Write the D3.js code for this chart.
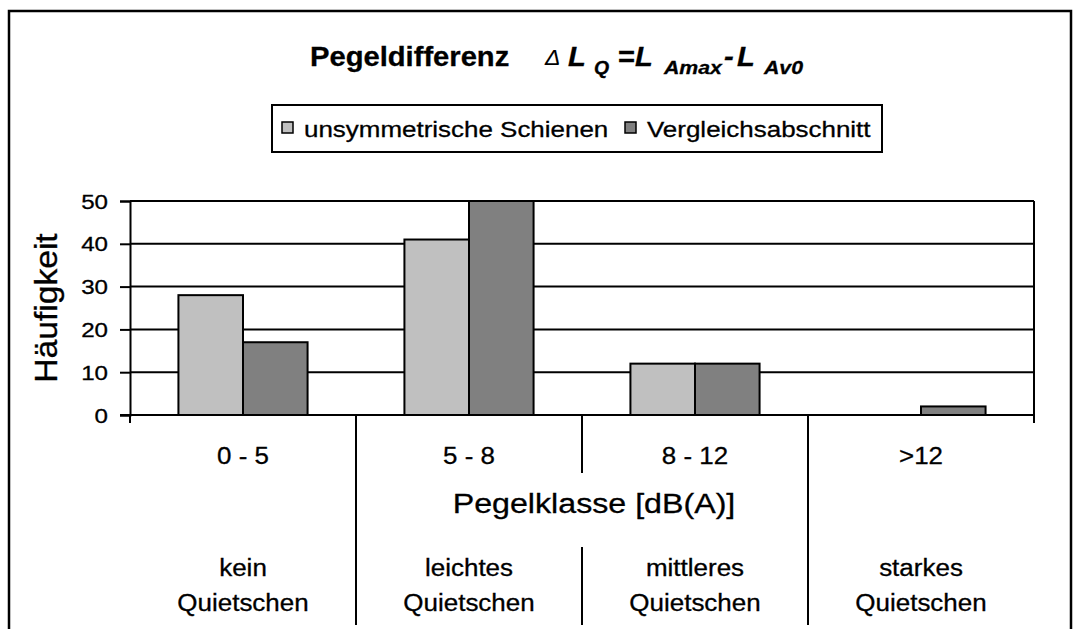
<!DOCTYPE html>
<html>
<head>
<meta charset="utf-8">
<script src="https://cdn.jsdelivr.net/npm/d3@7"></script>
<style>
  html, body { margin: 0; padding: 0; background: #fff; }
  svg { display: block; }
  text { font-family: "Liberation Sans", Arial, sans-serif; fill: #000; stroke: #000; stroke-width: 0.3px; }
</style>
</head>
<body>
<svg id="chart" width="1080" height="629"></svg>
<script>
// Pegelklassen (x-axis categories) and the squeal descriptions below them
const categories = ["0 - 5", "5 - 8", "8 - 12", ">12"];
const squealLine1 = ["kein", "leichtes", "mittleres", "starkes"];
const squealLine2 = ["Quietschen", "Quietschen", "Quietschen", "Quietschen"];

// Series
const seriesNames = ["unsymmetrische Schienen", "Vergleichsabschnitt"];
const seriesColors = ["#c0c0c0", "#808080"];
const unsymmetrisch = [28, 41, 12, 0];
const vergleich = [17, 50, 12, 2];
const seriesValues = [unsymmetrisch, vergleich];

// Axis ticks
const yTicks = [0, 10, 20, 30, 40, 50];

const svg = d3.select("#chart");
const plot = { left: 130, right: 1034, top: 201, bottom: 415 };

// Text helper: anchored text with a slight horizontal stretch
function label(parent, x, y, str, o) {
  const g = parent.append("g")
    .attr("transform", `translate(${x},${y}) scale(${o.sx || 1},1)`);
  return g.append("text")
    .attr("text-anchor", o.anchor || "start")
    .attr("font-size", o.size)
    .attr("font-weight", o.weight || "normal")
    .attr("font-style", o.style || "normal")
    .text(str);
}

// Outer chart frame
svg.append("rect")
  .attr("x", 9).attr("y", 11)
  .attr("width", 1062).attr("height", 700)
  .attr("fill", "none").attr("stroke", "#000").attr("stroke-width", 2.5);

// Title: Pegeldifferenz ΔL_Q = L_Amax - L_Av0
const tb = 66, sb = 74, tsx = 1.08;
label(svg, 310, tb, "Pegeldifferenz", { size: 27, weight: "bold", sx: tsx });
label(svg, 545, tb - 1, "\u0394", { size: 23, style: "italic", sx: 1.0 }).style("stroke-width", "0.1px");
label(svg, 568, tb, "L", { size: 27, weight: "bold", style: "italic", sx: tsx });
label(svg, 594, sb, "Q", { size: 18, weight: "bold", style: "italic", sx: tsx });
label(svg, 618, tb, "=", { size: 27, weight: "bold", sx: tsx });
label(svg, 635, tb, "L", { size: 27, weight: "bold", style: "italic", sx: tsx });
label(svg, 664, sb, "Amax", { size: 19, weight: "bold", style: "italic", sx: 1.12 });
label(svg, 724, tb, "-", { size: 27, weight: "bold", style: "italic", sx: tsx });
label(svg, 737, tb, "L", { size: 27, weight: "bold", style: "italic", sx: tsx });
label(svg, 764, sb, "Av0", { size: 19, weight: "bold", style: "italic", sx: 1.12 });

// Legend
const legend = svg.append("g");
legend.append("rect")
  .attr("x", 272).attr("y", 105).attr("width", 610).attr("height", 47)
  .attr("fill", "#fff").attr("stroke", "#000").attr("stroke-width", 2);
const legendX = [282, 625];
seriesNames.forEach((name, i) => {
  legend.append("rect")
    .attr("x", legendX[i]).attr("y", 122).attr("width", 11).attr("height", 11)
    .attr("fill", seriesColors[i]).attr("stroke", "#000").attr("stroke-width", 1.5);
  label(legend, legendX[i] + 22, 137, name, { size: 22, sx: 1.18 });
});

// Scales
const x = d3.scaleBand().domain(categories)
  .range([plot.left, plot.right]).paddingInner(0).paddingOuter(0);
const xs = d3.scaleBand().domain(d3.range(seriesNames.length))
  .range([0, x.bandwidth()]).paddingInner(0).paddingOuter(0.75);
const y = d3.scaleLinear().domain([0, 50]).range([plot.bottom, plot.top]);

// Gridlines
svg.append("g").selectAll("line").data(yTicks).join("line")
  .attr("x1", plot.left).attr("x2", plot.right)
  .attr("y1", d => y(d)).attr("y2", d => y(d))
  .attr("stroke", "#000").attr("stroke-width", 2);

// Y axis
const yAxis = svg.append("g")
  .attr("transform", `translate(${plot.left},0)`)
  .call(d3.axisLeft(y).tickValues(yTicks).tickSize(10).tickFormat(""));
yAxis.select(".domain").attr("stroke-width", 2);
yAxis.selectAll(".tick line").attr("stroke-width", 2);
yTicks.forEach(t => label(svg, 108, y(t) + 7.5, String(t), { size: 21, anchor: "end", sx: 1.15 }));

// Right border of the plot area
svg.append("line")
  .attr("x1", plot.right).attr("x2", plot.right)
  .attr("y1", plot.top).attr("y2", plot.bottom + 8)
  .attr("stroke", "#000").attr("stroke-width", 2);

// Bars
const barG = svg.append("g");
categories.forEach((c, ci) => {
  seriesValues.forEach((vals, si) => {
    const v = vals[ci];
    if (v <= 0) return;
    barG.append("rect")
      .attr("x", x(c) + xs(si))
      .attr("y", y(v))
      .attr("width", xs.bandwidth())
      .attr("height", y(0) - y(v))
      .attr("fill", seriesColors[si])
      .attr("stroke", "#000").attr("stroke-width", 2);
  });
});

// X axis line and category boundary ticks
svg.append("line")
  .attr("x1", plot.left - 10).attr("x2", plot.right)
  .attr("y1", y(0)).attr("y2", y(0))
  .attr("stroke", "#000").attr("stroke-width", 2);
const bounds = categories.map(c => x(c)).concat([plot.right]);
bounds.forEach((bx, i) => {
  const inner = i > 0 && i < bounds.length - 1;
  if (!inner) {
    svg.append("line").attr("x1", bx).attr("x2", bx)
      .attr("y1", y(0)).attr("y2", y(0) + 8)
      .attr("stroke", "#000").attr("stroke-width", 2);
  } else if (i === 2) {
    // middle separator is interrupted by the axis title
    [[y(0), 473], [547, 625]].forEach(([a, b]) =>
      svg.append("line").attr("x1", bx).attr("x2", bx)
        .attr("y1", a).attr("y2", b)
        .attr("stroke", "#000").attr("stroke-width", 2));
  } else {
    svg.append("line").attr("x1", bx).attr("x2", bx)
      .attr("y1", y(0)).attr("y2", 625)
      .attr("stroke", "#000").attr("stroke-width", 2);
  }
});

// Category labels and squeal descriptions
categories.forEach((c, i) => {
  const cx = x(c) + x.bandwidth() / 2;
  label(svg, cx, 464, c, { size: 24, anchor: "middle", sx: 1.08 });
  label(svg, cx, 576, squealLine1[i], { size: 23, anchor: "middle", sx: 1.13 });
  label(svg, cx, 611, squealLine2[i], { size: 23, anchor: "middle", sx: 1.13 });
});

// Axis titles
label(svg, 594, 513, "Pegelklasse [dB(A)]", { size: 28, anchor: "middle", sx: 1.15 });
svg.append("g")
  .attr("transform", `translate(57,${(plot.top + plot.bottom) / 2}) rotate(-90) scale(1.2,1.1)`)
  .append("text")
  .attr("text-anchor", "middle")
  .attr("font-size", 28)
  .text("Häufigkeit");
</script>
</body>
</html>
